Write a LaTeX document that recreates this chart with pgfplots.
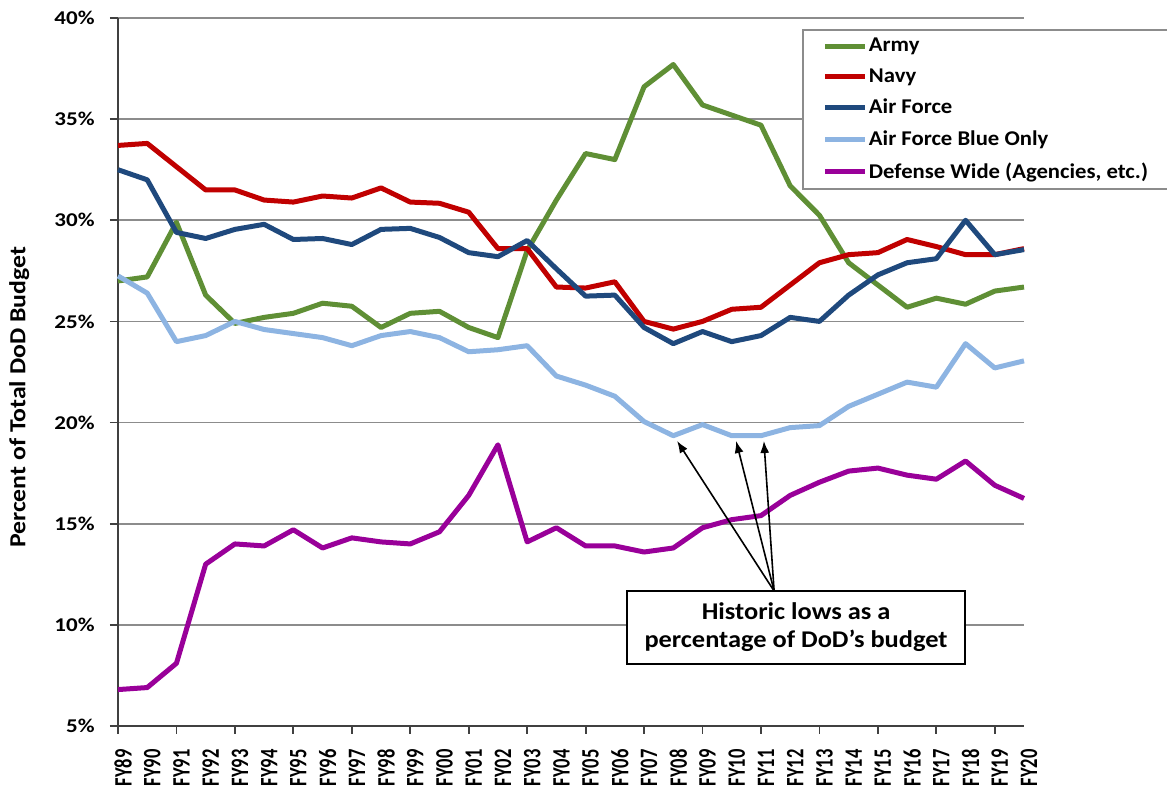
\documentclass[border=0pt]{standalone}
\usepackage{fontspec}
\setmainfont{Carlito}
\newfontfamily\ytf{Carlito}[FakeStretch=1.18]
\newfontfamily\xtf{Carlito}[FakeStretch=0.74]
\newfontfamily\ylf{Carlito}[FakeStretch=1.12]
\newfontfamily\lgf{Carlito}[FakeStretch=1.08]
\newfontfamily\anf{Carlito}[FakeStretch=1.1]
\usepackage{pgfplots}
\pgfplotsset{compat=1.18}
\usetikzlibrary{arrows.meta}
\definecolor{army}{RGB}{95,143,53}
\definecolor{navy}{RGB}{192,0,0}
\definecolor{airforce}{RGB}{31,73,125}
\definecolor{afblue}{RGB}{141,180,226}
\definecolor{dwide}{RGB}{153,0,153}
\begin{document}
\begin{tikzpicture}
\begin{axis}[name=ax,
  width=453pt, height=354pt, scale only axis,
  xmin=0, xmax=31, ymin=5, ymax=40,
  clip=false,
  axis x line*=bottom, axis y line*=left,
  axis line style={black!75, line width=0.9pt},
  tick align=outside,
  major tick length=4pt,
  tick style={black!75, line width=0.9pt},
  ytick={5,10,...,40},
  yticklabels={5\%,10\%,15\%,20\%,25\%,30\%,35\%,40\%},
  yticklabel style={font=\ytf\bfseries\fontsize{9.75}{11}\selectfont, xshift=-7.5pt, anchor=east, inner sep=0pt},
  ymajorgrids, grid style={draw=black!45, line width=0.8pt},
  xtick={0,2,...,30}, xticklabels={},
  extra x ticks={0,1,...,31},
  extra x tick labels={FY89,FY90,FY91,FY92,FY93,FY94,FY95,FY96,FY97,FY98,FY99,FY00,FY01,FY02,FY03,FY04,FY05,FY06,FY07,FY08,FY09,FY10,FY11,FY12,FY13,FY14,FY15,FY16,FY17,FY18,FY19,FY20},
  extra x tick style={tick style={draw=none}},
  xticklabel style={font=\xtf\bfseries\fontsize{12.5}{13}\selectfont, xshift=2.5pt, yshift=-7.5pt, rotate=90, anchor=east, inner sep=0pt},
  ylabel={Percent of Total DoD Budget},
  ylabel style={font=\ylf\bfseries\fontsize{11.5}{13}\selectfont, at={(axis description cs:-0.109,0.464)}, anchor=center},
  legend style={at={(axis description cs:0.755,0.9845)}, anchor=north west, draw=black!45, line width=0.9pt, fill=white, inner xsep=10pt, inner ysep=3pt, row sep=5pt, font=\lgf\bfseries\fontsize{10.5}{12}\selectfont, nodes={inner xsep=0.5pt, inner ysep=1pt}},
  legend cell align=left,
  legend image code/.code={\draw[#1] (0pt,0pt) -- (20pt,0pt);},
  every axis plot/.append style={line width=2.5pt, line join=round, no markers},
]
\addplot[army] coordinates {(0,27.0)(1,27.2)(2,29.9)(3,26.3)(4,24.9)(5,25.2)(6,25.4)(7,25.9)(8,25.75)(9,24.7)(10,25.4)(11,25.5)(12,24.7)(13,24.2)(14,28.5)(15,31.0)(16,33.3)(17,33.0)(18,36.6)(19,37.7)(20,35.7)(21,35.2)(22,34.7)(23,31.7)(24,30.25)(25,27.9)(26,26.8)(27,25.7)(28,26.15)(29,25.85)(30,26.5)(31,26.7)};
\addlegendentry{Army}
\addplot[navy] coordinates {(0,33.7)(1,33.8)(2,32.65)(3,31.5)(4,31.5)(5,31.0)(6,30.9)(7,31.2)(8,31.1)(9,31.6)(10,30.9)(11,30.84)(12,30.4)(13,28.6)(14,28.6)(15,26.7)(16,26.65)(17,26.96)(18,25.0)(19,24.62)(20,25.0)(21,25.6)(22,25.7)(23,26.8)(24,27.9)(25,28.3)(26,28.4)(27,29.05)(28,28.7)(29,28.3)(30,28.3)(31,28.6)};
\addlegendentry{Navy}
\addplot[airforce] coordinates {(0,32.5)(1,32.0)(2,29.4)(3,29.1)(4,29.55)(5,29.8)(6,29.05)(7,29.1)(8,28.8)(9,29.55)(10,29.6)(11,29.15)(12,28.4)(13,28.2)(14,29.0)(15,27.6)(16,26.25)(17,26.3)(18,24.7)(19,23.9)(20,24.5)(21,24.0)(22,24.3)(23,25.2)(24,25.0)(25,26.3)(26,27.3)(27,27.9)(28,28.1)(29,30.0)(30,28.3)(31,28.55)};
\addlegendentry{Air Force}
\addplot[afblue] coordinates {(0,27.25)(1,26.4)(2,24.0)(3,24.3)(4,25.0)(5,24.6)(6,24.4)(7,24.2)(8,23.8)(9,24.3)(10,24.5)(11,24.2)(12,23.5)(13,23.6)(14,23.8)(15,22.3)(16,21.85)(17,21.3)(18,20.05)(19,19.35)(20,19.9)(21,19.35)(22,19.35)(23,19.75)(24,19.85)(25,20.8)(26,21.4)(27,22.0)(28,21.75)(29,23.9)(30,22.7)(31,23.05)};
\addlegendentry{Air Force Blue Only}
\addplot[dwide] coordinates {(0,6.8)(1,6.9)(2,8.1)(3,13.0)(4,14.0)(5,13.9)(6,14.7)(7,13.8)(8,14.3)(9,14.1)(10,14.0)(11,14.6)(12,16.4)(13,18.9)(14,14.1)(15,14.8)(16,13.9)(17,13.9)(18,13.6)(19,13.8)(20,14.8)(21,15.2)(22,15.4)(23,16.4)(24,17.05)(25,17.6)(26,17.75)(27,17.4)(28,17.2)(29,18.1)(30,16.9)(31,16.25)};
\addlegendentry{Defense Wide (Agencies, etc.)\hspace{12pt}}
\draw[black, line width=0.8pt, -{Latex[length=6pt,width=4.5pt]}] (axis cs:22.45,11.67) -- (axis cs:19.13,19.09);
\draw[black, line width=0.8pt, -{Latex[length=6pt,width=4.5pt]}] (axis cs:22.45,11.67) -- (axis cs:21.15,19.09);
\draw[black, line width=0.8pt, -{Latex[length=6pt,width=4.5pt]}] (axis cs:22.45,11.67) -- (axis cs:22.10,19.09);
\node[draw=black, line width=1pt, fill=white, align=center, font=\anf\bfseries\fontsize{12}{14}\selectfont, minimum width=169pt, minimum height=36.5pt, inner sep=0pt] at (axis cs:23.2,9.87) {Historic lows as a\\percentage of DoD’s budget};
\end{axis}
\pgfresetboundingbox
\path[use as bounding box] ([shift={(-59pt,-34.5pt)}]ax.south west) rectangle ([shift={(524.5pt,363pt)}]ax.south west);
\end{tikzpicture}
\end{document}
